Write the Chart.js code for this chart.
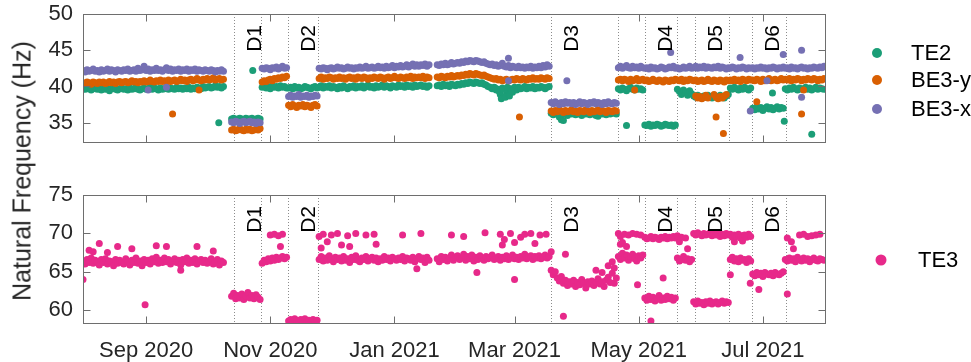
<!DOCTYPE html>
<html>
<head>
<meta charset="utf-8">
<script src="https://cdn.jsdelivr.net/npm/chart.js@4.4.0/dist/chart.umd.min.js"></script>
<style>
  body { margin: 0; background: #fff; width: 971px; height: 362px; position: relative; overflow: hidden;
         font-family: "Liberation Sans", Arial, sans-serif; }
  #topWrap { position: absolute; left: 0; top: -10px; }
  #botWrap { position: absolute; left: 0; top: 170px; }
  #ylab { position: absolute; left: 22px; top: 171px; transform: translate(-50%, -50%) rotate(-90deg);
          font-size: 25px; color: #262626; white-space: nowrap; }
</style>
</head>
<body>
<div id="topWrap"><canvas id="topChart" width="971" height="180"></canvas></div>
<div id="botWrap"><canvas id="botChart" width="971" height="192"></canvas></div>
<div id="ylab">Natural Frequency (Hz)</div>
<script>
// x values are days since 1 Aug 2020
const xTickDays = [31, 92, 153, 212, 273, 334];
const xTickLabels = ['Sep 2020', 'Nov 2020', 'Jan 2021', 'Mar 2021', 'May 2021', 'Jul 2021'];
const dividerDays = [74, 87.5, 100.5, 115.5, 230, 263, 276, 292, 300.5, 317.5, 328.5, 345.5];
const damageLabels = ['D1', 'D2', 'D3', 'D4', 'D5', 'D6'];
const topTicks = [35, 40, 45, 50];
const botTicks = [60, 65, 70, 75];

// daily readings, day 0..364 (null = no data)
const te2 = [
  39.8,39.6,39.7,39.9,39.5,39.7,39.8,39.6,39.7,39.5, 39.8,39.6,39.7,39.4,39.7,39.8,39.6,39.5,39.7,39.8,
  39.6,39.7,39.5,39.8,39.6,39.7,39.9,39.6,39.5,39.7, 39.8,39.6,39.7,39.9,39.6,39.8,39.7,39.5,39.8,39.6,
  39.7,39.9,39.6,39.8,39.7,39.6,39.9,39.7,39.8,39.6, 39.8,39.7,39.9,39.6,39.8,39.7,39.9,39.8,39.7,40.0,
  39.8,39.9,40.0,39.8,39.9,40.1,39.9,40.0,39.8,40.0,
  null,null,null,
  35.5,35.6,35.4,35.5,35.6,35.5,35.4,35.6,35.5,35.5,35.6,35.4,35.5,35.6,35.5,
  39.9,40.2,39.8,40.0,39.7,40.1,39.9,40.0,39.8,40.1,39.9,40.0,39.8,
  39.8,39.9,39.7,40.0,39.8,39.9,39.7,39.8,40.0,39.9,39.8,39.7,39.9,40.0,39.8,
  39.9,40.1,39.8,40.0,39.9,40.1,39.8,40.0,39.9,39.7, 40.0,39.8,40.1,39.9,39.7,40.0,39.9,40.1,39.8,40.0,
  39.9,40.1,39.8,40.0,40.2,39.9,40.0,39.8,40.1,39.9, 40.0,40.2,39.9,40.1,40.0,39.8,40.1,40.0,39.9,40.2,
  40.0,40.1,39.9,40.2,40.0,40.1,39.9,40.2,40.0,40.1, 40.2,40.0,40.1,39.9,40.1,
  null,null,null,
  40.1,40.2,40.0,40.3,40.1,40.2,40.0,40.3,40.2,40.1, 40.3,40.2,40.4,40.3,40.5,40.4,40.6,40.5,40.4,40.6,
  40.5,40.4,40.5,40.3,40.2,40.0,39.9,39.7,39.9,39.5, 39.6,38.9,39.8,38.6,39.4,38.8,39.7,39.2,39.9,39.5,
  39.9,39.7,39.8,40.0,39.7,39.9,39.8,40.0,39.7,39.9, 39.8,40.0,39.9,39.7,39.9,40.0,
  36.3,36.1,36.4,36.2,35.8,35.4,36.2,36.3,36.0,36.4, 36.2,36.3,36.1,36.4,36.2,36.0,36.3,36.2,36.4,36.1,
  36.3,36.2,36.0,35.9,36.3,36.2,36.4,36.1,36.3,36.2, 36.4,36.3,36.2,
  39.7,39.5,39.8,39.6,39.4,39.7,39.9,39.6,39.5,39.8,39.6,39.7,39.5,
  34.7,34.6,34.8,34.5,34.7,34.6,34.8,34.7,34.5,34.6,34.8,34.7,34.6,34.7,34.5,34.7,
  39.6,39.3,38.9,39.5,39.2,38.8,39.4,39.0,
  38.7,38.5,38.8,38.6,38.4,38.7,38.5,38.8,38.6,38.4,38.7,38.6,38.5,38.8,38.6,38.4,38.7,38.9,
  39.8,39.6,39.9,39.7,39.5,39.8,39.6,39.9,39.7,39.5,39.8,
  37.0,36.8,37.2,36.9,37.1,36.7,37.0,37.2,36.9,37.1,36.8,37.0,37.2,36.9,37.1,37.0,
  39.7,39.5,39.8,39.6,39.9,39.7,39.5,39.8,39.6,39.7, 39.9,39.6,39.8,39.5,39.7,39.9,39.6,39.8,39.7,39.6
];
const be3y = [
  40.5,40.4,40.6,40.5,40.3,40.6,40.5,40.4,40.6,40.5, 40.6,40.4,40.5,40.7,40.5,40.6,40.4,40.6,40.7,40.5,
  40.6,40.7,40.5,40.6,40.8,40.6,40.7,40.5,40.7,40.6, 40.8,40.6,40.7,40.9,40.7,40.6,40.8,40.7,40.9,40.7,
  40.8,40.6,40.9,40.7,40.8,40.9,40.7,40.8,41.0,40.8, 40.9,40.7,40.9,41.0,40.8,40.9,41.1,40.9,40.8,41.0,
  40.9,41.1,40.9,41.0,41.2,40.9,41.0,41.1,40.9,41.0,
  null,null,null,
  34.0,34.1,33.9,34.0,34.2,34.0,33.9,34.1,34.0,34.1,33.9,34.0,34.1,34.0,34.2,
  40.6,40.8,40.7,40.9,41.0,40.8,41.1,41.0,41.2,41.1,41.3,41.2,41.4,
  37.4,37.2,37.5,37.3,37.1,37.4,37.3,37.5,37.2,37.4,37.3,37.1,37.4,37.5,37.3,
  41.1,41.3,41.0,41.2,41.1,41.3,41.2,41.0,41.2,41.1, 41.3,41.1,41.2,41.0,41.2,41.3,41.1,41.2,41.0,41.3,
  41.2,41.1,41.3,41.2,41.0,41.2,41.1,41.3,41.2,41.1, 41.3,41.2,41.0,41.2,41.3,41.1,41.2,41.4,41.2,41.1,
  41.3,41.2,41.1,41.3,41.2,41.4,41.1,41.3,41.2,41.3, 41.2,41.4,41.1,41.3,41.2,
  null,null,null,
  41.3,41.2,41.4,41.3,41.2,41.4,41.3,41.5,41.3,41.4, 41.5,41.4,41.6,41.5,41.7,41.6,41.8,41.7,41.6,41.8,
  41.7,41.6,41.5,41.6,41.4,41.3,41.2,41.1,41.0,41.1, 40.9,41.0,40.8,40.9,41.0,40.8,40.9,41.0,40.9,41.1,
  41.0,40.9,41.1,41.0,40.9,41.1,41.0,41.2,41.0,41.1, 41.0,41.2,41.1,41.0,41.2,41.1,
  36.6,36.4,36.7,36.5,36.8,36.6,36.4,36.7,36.5,36.6, 36.8,36.5,36.6,36.4,36.7,36.6,36.5,36.8,36.6,36.4,
  36.7,36.5,36.6,36.8,36.5,36.7,36.6,36.4,36.7,36.6, 36.5,36.7,36.6,
  40.9,41.0,40.8,41.0,40.9,40.7,41.0,40.8,40.9,41.1,40.8,40.9,41.0,
  40.8,40.9,40.7,40.8,41.0,40.8,40.7,40.9,40.8,40.6,40.9,40.8,40.7,40.9,40.8,41.0,
  40.9,40.8,41.0,40.7,40.9,40.8,41.0,40.9,
  40.8,40.9,40.7,40.8,40.9,40.7,40.8,41.0,40.8,40.7,40.9,40.8,40.7,40.9,40.8,40.6,40.9,40.8,
  40.9,40.8,41.0,40.8,40.9,40.7,41.0,40.9,40.8,41.0,40.9,
  40.9,40.8,41.0,40.9,40.7,41.0,40.8,40.9,41.1,40.8,40.9,41.0,40.8,40.9,41.1,40.9,
  41.0,40.9,41.1,40.8,41.0,40.9,41.1,41.0,40.8,41.0, 40.9,41.1,41.0,40.9,41.1,41.0,40.8,41.0,40.9,41.1
];
const be3x = [
  42.2,42.0,42.3,42.1,42.2,42.4,42.1,42.2,42.0,42.3, 42.1,42.2,42.4,42.1,42.3,42.2,42.0,42.3,42.2,42.1,
  42.3,42.2,42.4,42.1,42.2,42.3,42.1,42.5,42.2,42.3, 42.8,42.2,42.4,42.1,42.3,42.2,42.5,42.2,42.3,42.1,
  42.3,42.6,42.2,42.4,42.1,42.3,42.2,42.4,42.1,42.3, 42.2,42.4,42.1,42.3,42.2,42.4,42.1,42.3,42.2,42.1,
  42.3,42.2,42.1,42.3,42.2,42.0,42.2,42.1,42.3,42.1,
  null,null,null,
  35.1,35.0,35.2,35.1,34.9,35.1,35.2,35.0,35.1,35.2,35.0,35.1,34.9,35.1,35.0,
  42.5,42.4,42.6,42.5,42.3,42.6,42.5,42.7,42.4,42.6,42.8,42.5,42.6,
  38.6,38.8,38.5,38.7,38.6,38.9,38.5,38.7,38.6,38.8,38.5,38.7,38.6,38.8,38.7,
  42.5,42.4,42.6,42.5,42.3,42.5,42.6,42.4,42.5,42.7, 42.5,42.6,42.4,42.5,42.7,42.5,42.6,42.4,42.6,42.5,
  42.7,42.5,42.6,42.8,42.5,42.6,42.7,42.5,42.6,42.8, 42.6,42.7,42.5,42.8,42.6,42.7,42.9,42.6,42.8,42.7,
  42.9,42.7,42.8,43.0,42.7,42.9,43.1,42.8,43.0,42.8, 43.0,42.9,43.1,42.8,43.0,
  null,null,null,
  43.0,42.9,43.1,43.0,43.2,43.0,43.1,43.3,43.1,43.2, 43.3,43.2,43.4,43.3,43.5,43.4,43.6,43.5,43.4,43.6,
  43.5,43.4,43.3,43.4,43.2,43.1,43.0,43.1,42.9,43.0, 42.8,42.9,43.2,42.8,42.7,42.9,42.6,42.8,42.7,42.6,
  42.8,42.6,42.7,42.5,42.7,42.6,42.8,42.5,42.7,42.6, 42.8,42.6,42.9,42.7,43.0,42.8,
  37.8,37.6,37.9,37.7,37.5,37.8,37.6,37.9,37.7,37.8, 37.6,37.8,37.5,37.7,37.9,37.6,37.8,37.7,37.5,37.8,
  37.7,37.9,37.6,37.8,37.7,37.5,37.8,37.6,37.9,37.7, 37.6,37.8,37.7,
  42.6,42.8,42.5,42.7,42.9,42.6,42.5,42.8,42.6,42.7,42.5,42.8,42.6,
  42.5,42.6,42.4,42.7,42.5,42.6,42.4,42.5,42.7,42.6,42.4,42.5,42.7,42.6,42.8,42.5,
  42.6,42.4,42.5,42.7,42.5,42.6,42.8,42.5,
  42.6,42.8,42.5,42.7,42.6,42.8,42.5,42.7,42.6,42.5,42.7,42.6,42.8,42.5,42.7,42.6,42.4,42.6,
  42.5,42.7,42.6,42.4,42.6,42.5,42.7,42.6,42.4,42.6,42.5,
  42.6,42.4,42.6,42.5,42.7,42.5,42.6,42.4,42.6,42.5,42.7,42.6,42.4,42.6,42.5,42.7,
  42.5,42.6,42.4,42.7,42.5,42.6,42.4,42.6,42.7,42.5, 42.6,42.4,42.6,42.5,42.7,42.6,42.5,42.7,42.6,42.8
];
const te3 = [
  66.4,66.0,66.6,66.2,66.8,66.1,66.5,66.3,65.9,66.6, 66.2,66.7,66.0,66.4,66.3,65.8,66.6,66.1,66.5,66.2,
  66.0,66.7,66.3,65.9,66.5,66.2,66.8,66.1,66.4,65.8, 66.6,66.2,66.5,66.0,66.7,66.3,66.9,66.1,66.5,66.2,
  66.8,66.3,66.6,66.0,66.4,66.7,66.2,66.5,65.9,66.6, 66.3,66.8,66.1,66.5,66.2,66.7,66.0,66.4,66.6,66.2,
  66.5,66.1,66.4,66.7,66.0,66.3,66.6,65.9,66.4,66.2,
  null,null,null,
  61.8,62.2,61.5,61.9,61.6,62.1,61.4,61.8,62.3,61.6,61.9,61.5,62.0,61.7,61.4,
  66.1,66.5,66.3,66.7,66.4,66.8,66.5,66.9,66.6,66.8,67.0,66.7,66.9,
  58.6,58.8,58.5,58.9,58.7,58.4,58.8,58.6,58.9,58.5,58.7,58.4,58.8,58.6,58.7,
  66.6,67.0,66.4,66.8,66.5,67.1,66.7,66.3,66.9,66.6, 66.8,66.4,67.0,66.5,66.7,66.2,66.9,66.6,67.1,66.5,
  66.3,66.8,66.6,67.0,66.4,66.7,66.9,66.5,66.8,66.3, 66.7,66.5,67.0,66.6,66.8,66.4,66.9,66.7,66.5,66.8,
  66.6,67.0,66.4,66.8,66.7,66.5,66.9,66.3,66.7,67.0, 66.6,66.8,66.2,66.9,66.5,
  null,null,null,
  66.7,66.3,67.0,66.6,66.9,66.4,66.8,67.2,66.5,66.9, 67.1,66.6,66.8,67.3,66.5,67.0,66.7,67.2,66.4,66.9,
  66.6,67.1,66.8,66.5,67.0,66.7,66.9,67.2,66.6,66.8, 67.0,66.5,66.9,66.7,67.1,66.6,66.8,67.2,66.7,66.9,
  66.6,67.0,66.8,67.3,66.7,66.9,67.1,66.6,67.0,66.8, 67.1,66.7,66.9,67.2,66.8,67.0,
  65.2,64.6,65.0,64.2,63.8,64.4,63.5,63.9,63.2,63.7, 63.4,63.9,63.1,63.6,63.3,64.0,63.5,62.9,63.7,63.4,
  63.8,63.2,63.6,64.1,63.4,63.7,63.1,63.9,64.3,63.6, 64.8,63.5,64.2,
  67.0,66.6,67.4,66.8,67.2,66.5,67.0,67.3,66.7,66.4,67.1,66.8,67.2,
  61.6,61.3,61.8,61.4,61.7,61.2,61.5,61.9,61.3,61.6,61.4,61.8,61.5,61.7,61.3,61.6,
  66.8,66.4,66.6,67.0,66.5,66.7,66.3,66.6,
  61.1,60.8,61.2,60.9,61.0,60.7,61.1,60.9,61.2,60.8,61.0,61.1,60.8,61.0,61.2,60.9,61.1,61.0,
  66.6,66.9,66.4,66.7,66.3,66.8,66.5,66.6,66.2,66.7,66.4,
  64.7,64.5,64.9,64.6,64.8,64.4,64.9,64.7,64.6,64.8,64.5,64.9,64.7,64.6,64.8,65.0,
  66.6,66.4,66.8,66.5,66.7,66.3,66.9,66.6,66.4,66.8, 66.5,66.7,66.3,66.6,66.8,66.5,66.4,66.7,66.6,66.5
];

// extra readings [day, value]: outliers and second levels
const te2Extra = [[66.7,35.0],[83.4,42.2],[236,35.3],[267,34.6],[338.7,39.1],[344.5,35.2],[358,33.4],
  [202.5,39.8],[204.5,39.3],[205.5,38.3],[206.5,39.6],[207.5,38.5],[208.5,39.9],[209.5,38.7],[210.5,39.4]];
const be3yExtra = [[44,36.2],[57,39.5],[214.4,35.8],[271,39.5],[311,35.8],[314.6,33.5],[331,37.9],[353,36.2],[354,39.5],
  [301,38.7],[302,38.4],[303,38.6],[304,38.3],[305,38.5],[306,38.8],[307,38.4],
  [310,38.9],[311,38.5],[312,38.3],[313,38.6],[314,38.4],[315,38.7],[316,38.9]];
const be3xExtra = [[32,39.5],[41,39.9],[209,40.8],[209,43.9],[237.7,40.8],[288.7,44.7],[322.8,44.0],[327.8,36.6],
  [336,40.8],[344,44.4],[353,45.0],[353,38.5]];
const te3Extra = [
  [0,64.0],[30.5,60.7],[3,67.8],[5,67.6],[8,68.7],[12,67.5],[17,68.3],[24,68.0],[36,68.4],[41,68.3],[48,65.2],[56,68.3],[64,67.7],
  [92,69.8],[94,69.9],[96,69.7],[97,68.3],[98,69.9],
  [116,69.6],[117,68.1],[118,69.9],[120,68.9],[122,69.8],[125,70.0],[127,68.5],[130,69.7],[131,68.3],[134,70.0],[139,69.8],[143,69.9],[144,68.6],
  [157,69.8],[164,65.4],[166,70.0],
  [181,69.8],[187,69.6],[193.5,64.9],[197.5,70.1],[205,69.9],[206,68.5],[207,69.2],[210,70.0],[212,68.8],[212,64.0],
  [215,69.5],[217,69.9],[220,70.0],[222,68.7],[224.5,69.8],[227.5,69.9],
  [230,67.6],[236,59.2],[237,67.3],[252,65.2],[255,64.9],[258,65.8],[260,66.3],[261,65.5],
  [263,70.0],[264,69.6],[264,68.6],[265,68.8],[266,69.9],[267,68.3],[268,69.8],[270,70.0],[272,69.9],[272.4,63.3],[274,69.8],
  [276,69.5],[277,69.3],[278,69.4],[279,69.6],[279,58.6],[280,69.3],[281,69.5],[282,69.4],[283,69.2],[284,69.5],[285,69.4],[285,64.2],
  [286,69.6],[287,69.3],[288,69.5],[289,69.4],[290,69.6],[291,69.4],
  [292,69.7],[293,68.9],[294,69.5],[296,69.4],[297,68.0],
  [300,70.0],[301,69.8],[302,70.1],[303,69.9],[304,69.7],[305,70.0],[306,69.8],[307,69.9],[308,70.1],[309,69.7],[310,69.9],
  [311,69.8],[312,70.0],[313,69.6],[314,69.9],[315,69.7],[316,70.0],[317,69.8],[318,69.9],[318,64.6],[319,69.5],[320,69.8],[320,68.9],
  [321,69.6],[322,69.9],[323,69.4],[324,69.7],[324,69.0],[325,69.8],[326,69.5],[327,69.9],[327.8,63.5],[328,69.6],
  [332,62.7],[346,62.1],[346,69.4],[348,68.9],[349,68.0],[352,69.8],[354,69.9],[356,69.6],[358,69.7],[360,69.8],[362,69.9]
];

const FONT = '"Liberation Sans", Arial, Helvetica, sans-serif';
Chart.defaults.font.family = FONT;
Chart.defaults.color = '#262626';

function toPoints(daily, extra) {
  const pts = [];
  daily.forEach((v, i) => { if (v !== null) pts.push({ x: i, y: v }); });
  extra.forEach(p => pts.push({ x: p[0], y: p[1] }));
  return pts;
}

// dotted damage dividers behind the points
const dividers = {
  id: 'dividers',
  beforeDatasetsDraw(chart) {
    const { ctx, chartArea: a, scales: { x } } = chart;
    ctx.save();
    ctx.strokeStyle = '#8c8c8c';
    ctx.lineWidth = 1;
    ctx.setLineDash([1, 2]);
    dividerDays.forEach(d => {
      const px = Math.round(x.getPixelForValue(d)) + 0.5;
      ctx.beginPath();
      ctx.moveTo(px, a.top);
      ctx.lineTo(px, a.bottom);
      ctx.stroke();
    });
    ctx.restore();
  }
};

// box, inward ticks, D labels, side legend
const frame = {
  id: 'frame',
  afterDraw(chart, args, opts) {
    const { ctx, chartArea: a, scales: { x, y } } = chart;
    ctx.save();
    ctx.fillStyle = '#000';
    ctx.font = '21px ' + FONT;
    ctx.textAlign = 'right';
    ctx.textBaseline = 'alphabetic';
    damageLabels.forEach((lab, i) => {
      const px = x.getPixelForValue(dividerDays[2 * i]);
      ctx.save();
      ctx.translate(px + 27, a.top + 11);
      ctx.rotate(-Math.PI / 2);
      ctx.fillText(lab, 0, 0);
      ctx.restore();
    });

    ctx.strokeStyle = '#6e6e6e';
    ctx.lineWidth = 1;
    const L = Math.round(a.left) + 0.5, R = Math.round(a.right) - 0.5;
    const T = Math.round(a.top) + 0.5, B = Math.round(a.bottom) - 0.5;
    ctx.strokeRect(L, T, R - L, B - T);
    ctx.beginPath();
    x.ticks.forEach(t => {
      const px = Math.round(x.getPixelForValue(t.value)) + 0.5;
      ctx.moveTo(px, B); ctx.lineTo(px, B - 7);
      ctx.moveTo(px, T); ctx.lineTo(px, T + 7);
    });
    y.ticks.forEach(t => {
      const py = Math.round(y.getPixelForValue(t.value)) + 0.5;
      ctx.moveTo(L, py); ctx.lineTo(L + 7, py);
      ctx.moveTo(R, py); ctx.lineTo(R - 7, py);
    });
    ctx.stroke();

    ctx.font = '22px ' + FONT;
    ctx.textAlign = 'left';
    ctx.textBaseline = 'middle';
    chart.data.datasets.forEach((ds, i) => {
      const yy = opts.rows[i];
      ctx.fillStyle = ds.backgroundColor;
      ctx.beginPath();
      ctx.arc(opts.markX, yy, opts.r, 0, Math.PI * 2);
      ctx.fill();
      ctx.fillStyle = '#000';
      ctx.fillText(ds.label, opts.textX, yy + 1);
    });
    ctx.restore();
  }
};

function makeChart(id, datasets, yMin, yMax, yTicks, showX, padTop, xHeight, legend) {
  return new Chart(document.getElementById(id), {
    type: 'scatter',
    data: { datasets },
    options: {
      responsive: false,
      animation: false,
      layout: { padding: { top: padTop, right: 145, bottom: 0, left: 0 } },
      elements: { point: { radius: 3.5, borderWidth: 0, hoverRadius: 3.5 } },
      plugins: { legend: { display: false }, tooltip: { enabled: false }, frame: legend },
      scales: {
        x: {
          type: 'linear', min: 0, max: 365,
          grid: { display: false, drawTicks: false }, border: { display: false },
          afterBuildTicks: s => { s.ticks = xTickDays.map(v => ({ value: v })); },
          afterFit: s => { s.height = xHeight; },
          ticks: { display: showX, autoSkip: false, maxRotation: 0, padding: 14,
                   font: { size: 22 }, color: '#262626', callback: (v, i) => xTickLabels[i] }
        },
        y: {
          min: yMin, max: yMax,
          grid: { display: false, drawTicks: false }, border: { display: false },
          afterBuildTicks: s => { s.ticks = yTicks.map(v => ({ value: v })); },
          afterFit: s => { s.width = 83; },
          ticks: { padding: 10, font: { size: 22 }, color: '#262626' }
        }
      }
    },
    plugins: [dividers, frame]
  });
}

makeChart('topChart', [
  { label: 'TE2', data: toPoints(te2, te2Extra), backgroundColor: '#1b9e77', order: 2 },
  { label: 'BE3-y', data: toPoints(be3y, be3yExtra), backgroundColor: '#d95f02', order: 1 },
  { label: 'BE3-x', data: toPoints(be3x, be3xExtra), backgroundColor: '#7570b3', order: 0 }
], 32.2, 50, topTicks, false, 24, 27, { markX: 877, textX: 911, rows: [63, 90, 119], r: 5 });

makeChart('botChart', [
  { label: 'TE3', data: toPoints(te3, te3Extra), backgroundColor: '#e7298a' }
], 58.2, 75, botTicks, true, 25, 38, { markX: 881, textX: 918, rows: [90], r: 5.5 });
</script>
</body>
</html>
